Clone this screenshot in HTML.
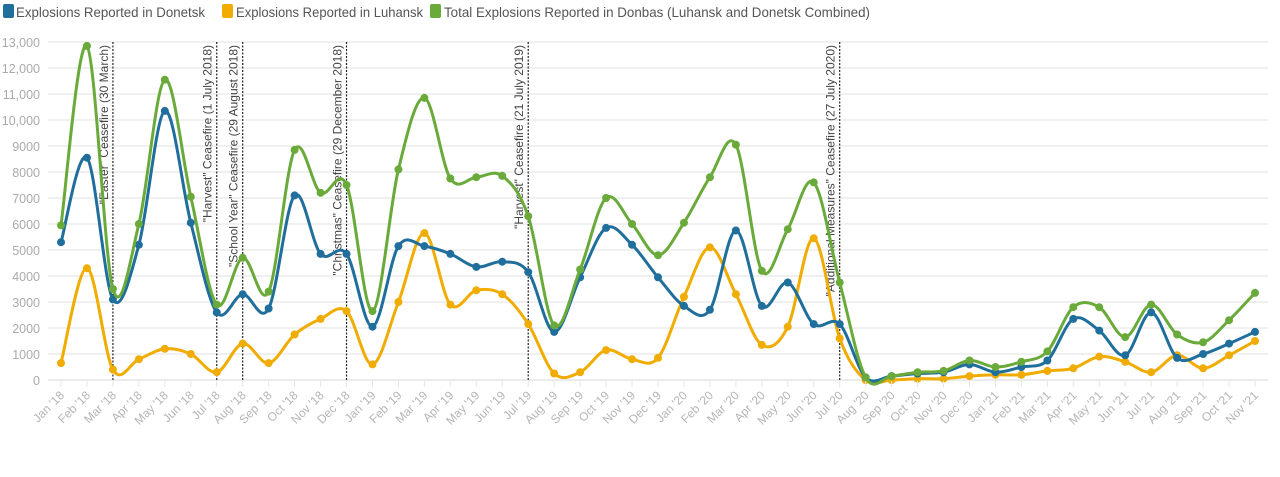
<!DOCTYPE html>
<html><head><meta charset="utf-8"><style>
body{margin:0;background:#fff;font-family:"Liberation Sans",sans-serif;}
svg{display:block}
</style></head><body>
<svg id="chart" width="1280" height="477">
<g id="legend">
<g><rect x="3" y="4" width="11" height="14" rx="2" fill="#1f6e9c"/><text x="16" y="17" font-size="14" fill="#555" textLength="189" lengthAdjust="spacingAndGlyphs">Explosions Reported in Donetsk</text></g>
<g><rect x="222" y="4" width="11" height="14" rx="2" fill="#f0ac00"/><text x="236" y="17" font-size="14" fill="#555" textLength="187" lengthAdjust="spacingAndGlyphs">Explosions Reported in Luhansk</text></g>
<g><rect x="430" y="4" width="11" height="14" rx="2" fill="#6aaa3a"/><text x="444" y="17" font-size="14" fill="#555" textLength="426" lengthAdjust="spacingAndGlyphs">Total Explosions Reported in Donbas (Luhansk and Donetsk Combined)</text></g>
</g>
<g id="grid"></g><g id="ann"></g><g id="series"></g><g id="xaxis"></g>
</svg>
<script>
const months=["Jan '18","Feb '18","Mar '18","Apr '18","May '18","Jun '18","Jul '18","Aug '18","Sep '18","Oct '18","Nov '18","Dec '18","Jan '19","Feb '19","Mar '19","Apr '19","May '19","Jun '19","Jul '19","Aug '19","Sep '19","Oct '19","Nov '19","Dec '19","Jan '20","Feb '20","Mar '20","Apr '20","May '20","Jun '20","Jul '20","Aug '20","Sep '20","Oct '20","Nov '20","Dec '20","Jan '21","Feb '21","Mar '21","Apr '21","May '21","Jun '21","Jul '21","Aug '21","Sep '21","Oct '21","Nov '21"];
const donetsk=[5300,8550,3100,5200,10350,6050,2600,3300,2750,7100,4850,4850,2050,5150,5150,4850,4350,4550,4150,1850,3950,5850,5200,3950,2850,2700,5750,2850,3750,2150,2150,100,150,250,300,600,300,500,750,2350,1900,950,2600,850,1000,1400,1850];
const luhansk=[650,4300,400,800,1200,1000,300,1400,650,1750,2350,2650,600,3000,5650,2900,3450,3300,2150,250,300,1150,800,850,3200,5100,3300,1350,2050,5450,1600,0,0,50,50,150,200,200,350,450,900,700,300,950,450,950,1500];
const total=[5950,12850,3500,6000,11550,7050,2900,4700,3400,8850,7200,7500,2650,8100,10850,7750,7800,7850,6300,2100,4250,7000,6000,4800,6050,7800,9050,4200,5800,7600,3750,100,150,300,350,750,500,700,1100,2800,2800,1650,2900,1750,1450,2300,3350];
const yTicks=[0,1000,2000,3000,4000,5000,6000,7000,8000,9000,10000,11000,12000,13000];
const annIdx=[2,6,7,11,18,30];
const annText=['"Easter" Ceasefire (30 March)','"Harvest" Ceasefire (1 July 2018)','"School Year" Ceasefire (29 August 2018)','"Christmas" Ceasefire (29 December 2018)','"Harvest" Ceasefire (21 July 2019)','"Additional Measures" Ceasefire (27 July 2020)'];
const NS="http://www.w3.org/2000/svg";
const x=i=>61+i*(1255-61)/(months.length-1);
const y=v=>380-v*(338/13000);
function mk(t,a,p){const e=document.createElementNS(NS,t);for(const k in a)e.setAttribute(k,a[k]);p.appendChild(e);return e;}
const grid=document.getElementById('grid');
yTicks.forEach(v=>{
 const l=mk('line',{x1:48,x2:1268,y1:y(v),y2:y(v),stroke:'#ebebeb','stroke-width':v===0?2:1.5},grid);
 
 
 const t=mk('text',{x:40,y:y(v)+5,'text-anchor':'end','font-size':12.5,fill:'#aaa'},grid);
 t.textContent=v>=10000?v.toLocaleString('en-US'):(v===0?'0':String(v));
 
 
});
const xa=document.getElementById('xaxis');
months.forEach((m,i)=>{
 mk('line',{x1:x(i),x2:x(i),y1:381,y2:387,stroke:'#e6e6e6'},xa);
 const t=mk('text',{transform:`translate(${x(i)+4},${396}) rotate(-45)`,'text-anchor':'end','font-size':12,fill:'#b5b5b5'},xa);
 t.textContent=m;
 
 
});
const ann=document.getElementById('ann');
annIdx.forEach((k,j)=>{
 const l=mk('line',{x1:x(k),x2:x(k),y1:42,y2:380,stroke:'#222','stroke-width':1.2,'stroke-dasharray':'2,1.5'},ann);
 
 
 const t=mk('text',{transform:`translate(${x(k)-5},45) rotate(-90)`,'text-anchor':'end','font-size':12,fill:'#444'},ann);
 t.textContent=annText[j];
 
 
});
function path(vals){
 const p=vals.map((v,i)=>[x(i),y(v)]);let d=`M${p[0][0]},${p[0][1]}`;
 for(let i=0;i<p.length-1;i++){const p0=p[i-1]||p[i],p1=p[i],p2=p[i+1],p3=p[i+2]||p2;
  const c1=[p1[0]+(p2[0]-p0[0])/6,p1[1]+(p2[1]-p0[1])/6],c2=[p2[0]-(p3[0]-p1[0])/6,p2[1]-(p3[1]-p1[1])/6];
  d+=`C${c1[0]},${c1[1]} ${c2[0]},${c2[1]} ${p2[0]},${p2[1]}`;}
 return d;}
const sg=document.getElementById('series');
[[luhansk,'#f0ac00','luhansk'],[donetsk,'#1f6e9c','donetsk'],[total,'#6aaa3a','total']].forEach(([vals,c,n])=>{
 const g=mk('g',{},sg);
 
 
 mk('path',{d:path(vals),fill:'none',stroke:c,'stroke-width':3},g);
 vals.forEach((v,i)=>{const pt=mk('circle',{cx:x(i),cy:y(v),r:4,fill:c},g);
  
  });
});
</script>
</body></html>
